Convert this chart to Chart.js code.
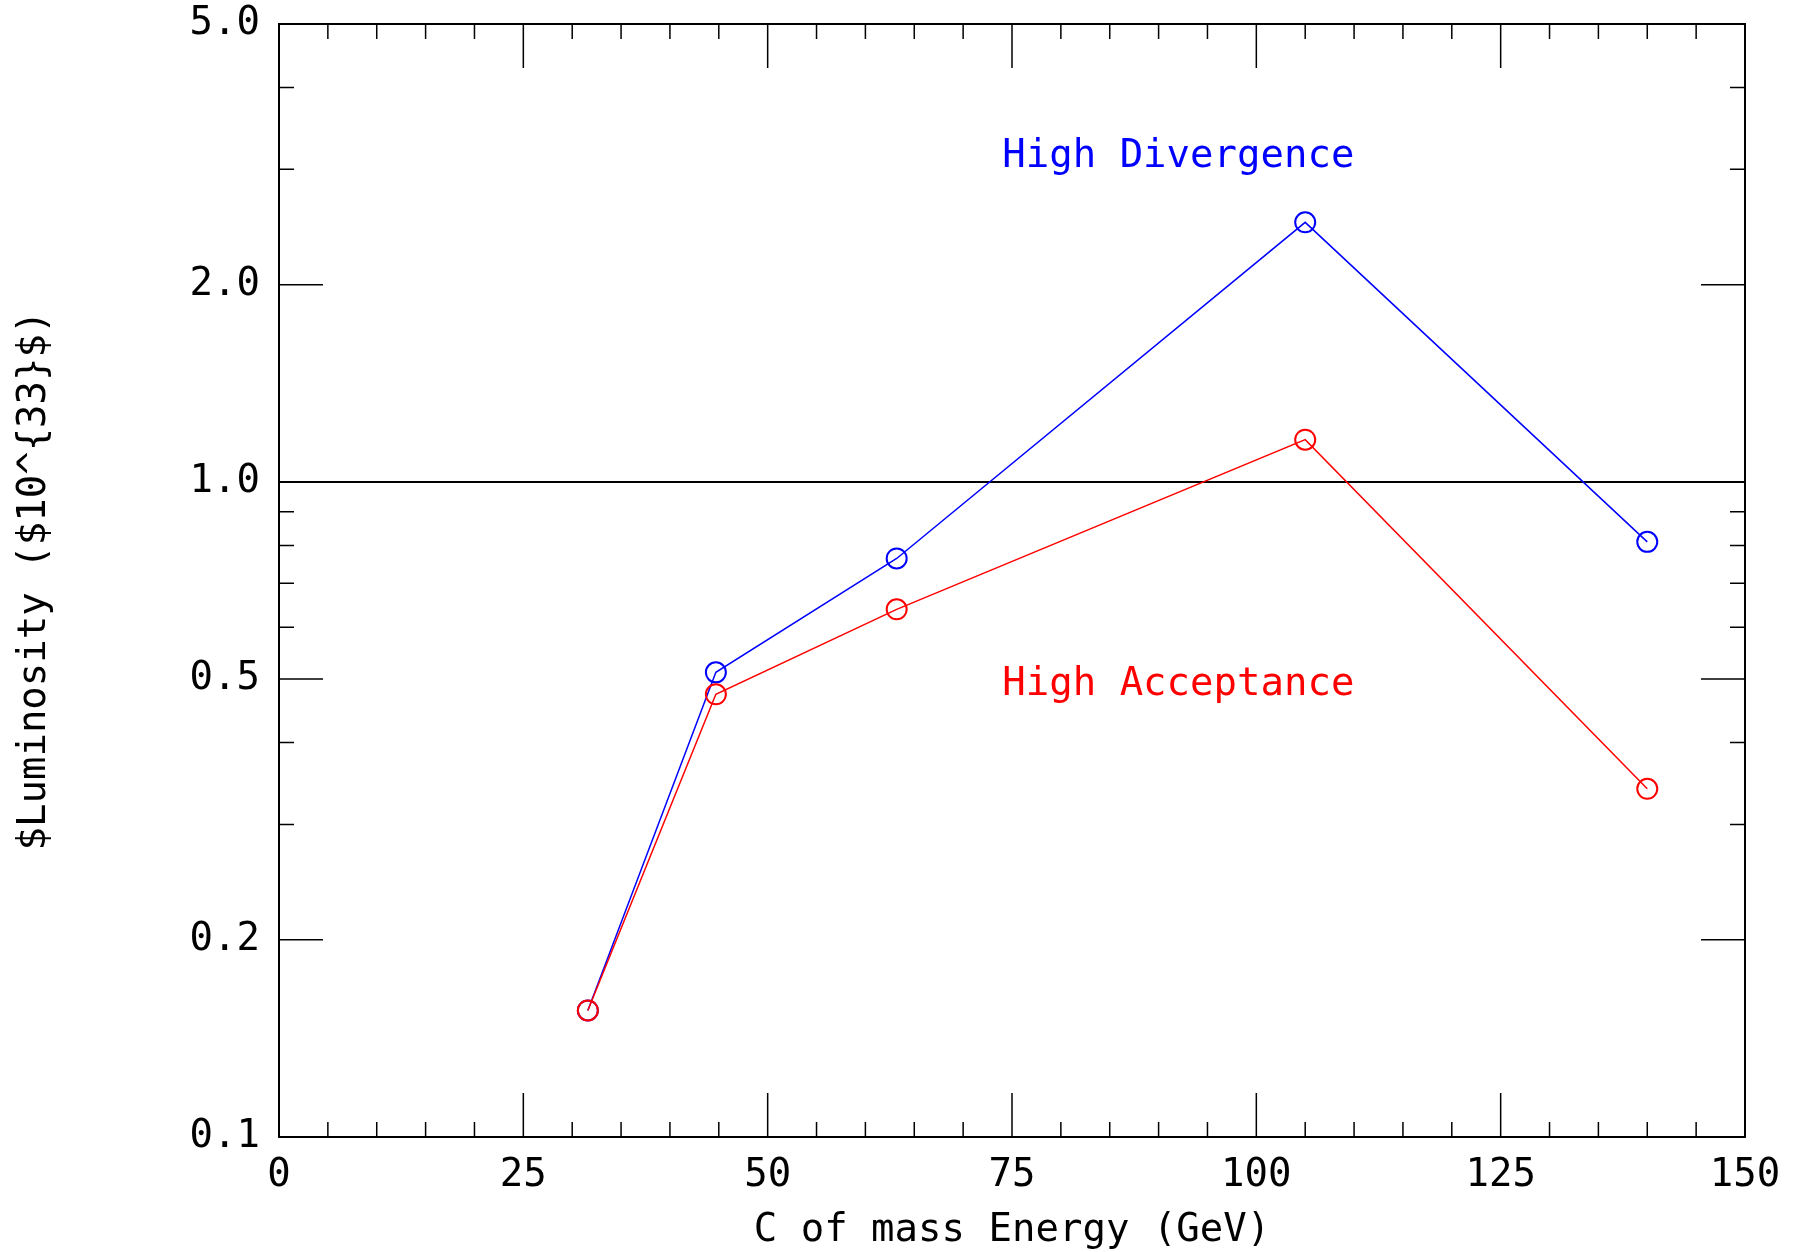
<!DOCTYPE html>
<html>
<head>
<meta charset="utf-8">
<script src="https://cdn.jsdelivr.net/npm/chart.js@4/dist/chart.umd.min.js"></script>
<style>
  html, body { margin: 0; padding: 0; background: #fff; }
  #wrap { width: 1798px; height: 1252px; position: relative; }
</style>
</head>
<body>
<div id="wrap"><canvas id="c"></canvas></div>
<script>
// ---- data ----
const energies = [31.6, 44.7, 63.2, 105, 140];
const highDivergence = [0.156, 0.512, 0.764, 2.49, 0.81];
const highAcceptance = [0.156, 0.474, 0.639, 1.16, 0.34];

const xMajorTicks = [0, 25, 50, 75, 100, 125, 150];
const xMinorTicks = [5, 10, 15, 20, 30, 35, 40, 45, 55, 60, 65, 70, 80, 85, 90, 95, 105, 110, 115, 120, 130, 135, 140, 145];
const yMajorTicks = [0.1, 0.2, 0.5, 1.0, 2.0, 5.0];
const yMinorTicks = [0.3, 0.4, 0.6, 0.7, 0.8, 0.9, 3.0, 4.0];

const labelTexts = ['High Divergence', 'High Acceptance'];
const labelX = [74, 74];
const labelY = [3.13, 0.49];
const labelColors = ['#0000ff', '#ff0000'];

const FONT = "'DejaVu Sans Mono', 'Liberation Mono', monospace";
const FS = 39;

const frameTicks = {
  id: 'frameTicks',
  beforeDatasetsDraw(chart) {
    const {ctx, chartArea: a, scales: {x, y}} = chart;
    ctx.save();
    ctx.strokeStyle = '#000';
    ctx.lineWidth = 1.5;
    const MAJ = 44, MIN = 15;
    ctx.beginPath();
    xMajorTicks.forEach(v => {
      const px = x.getPixelForValue(v);
      ctx.moveTo(px, a.bottom); ctx.lineTo(px, a.bottom - MAJ);
      ctx.moveTo(px, a.top); ctx.lineTo(px, a.top + MAJ);
    });
    xMinorTicks.forEach(v => {
      const px = x.getPixelForValue(v);
      ctx.moveTo(px, a.bottom); ctx.lineTo(px, a.bottom - MIN);
      ctx.moveTo(px, a.top); ctx.lineTo(px, a.top + MIN);
    });
    yMajorTicks.forEach(v => {
      const py = y.getPixelForValue(v);
      ctx.moveTo(a.left, py); ctx.lineTo(a.left + MAJ, py);
      ctx.moveTo(a.right, py); ctx.lineTo(a.right - MAJ, py);
    });
    yMinorTicks.forEach(v => {
      const py = y.getPixelForValue(v);
      ctx.moveTo(a.left, py); ctx.lineTo(a.left + MIN, py);
      ctx.moveTo(a.right, py); ctx.lineTo(a.right - MIN, py);
    });
    ctx.stroke();
    // 1.0 reference line
    ctx.lineWidth = 2;
    ctx.beginPath();
    const p1 = y.getPixelForValue(1.0);
    ctx.moveTo(a.left, p1); ctx.lineTo(a.right, p1);
    ctx.stroke();
    // frame
    ctx.lineWidth = 2;
    ctx.strokeRect(a.left, a.top, a.right - a.left, a.bottom - a.top);
    ctx.restore();
  },
  afterDatasetsDraw(chart) {
    const {ctx, scales: {x, y}} = chart;
    ctx.save();
    ctx.font = FS + 'px ' + FONT;
    ctx.textAlign = 'left';
    ctx.textBaseline = 'middle';
    labelTexts.forEach((t, i) => {
      ctx.fillStyle = labelColors[i];
      ctx.fillText(t, x.getPixelForValue(labelX[i]), y.getPixelForValue(labelY[i]));
    });
    ctx.restore();
  }
};

new Chart(document.getElementById('c'), {
  type: 'line',
  data: {
    datasets: [
      {
        label: 'High Acceptance',
        data: energies.map((e, i) => ({x: e, y: highAcceptance[i]})),
        borderColor: '#ff0000',
        backgroundColor: 'rgba(0,0,0,0)',
        borderWidth: 1.5,
        pointStyle: 'circle',
        pointRadius: 10,
        pointBorderWidth: 2,
        pointBorderColor: '#ff0000',
        pointBackgroundColor: 'rgba(0,0,0,0)',
        tension: 0
      },
      {
        label: 'High Divergence',
        data: energies.map((e, i) => ({x: e, y: highDivergence[i]})),
        borderColor: '#0000ff',
        backgroundColor: 'rgba(0,0,0,0)',
        borderWidth: 1.5,
        pointStyle: 'circle',
        pointRadius: 10,
        pointBorderWidth: 2,
        pointBorderColor: '#0000ff',
        pointBackgroundColor: 'rgba(0,0,0,0)',
        tension: 0
      }
    ]
  },
  options: {
    responsive: true,
    maintainAspectRatio: false,
    animation: false,
    layout: { padding: { top: 24, right: 53, left: 0, bottom: 0 } },
    plugins: { legend: { display: false }, tooltip: { enabled: false } },
    scales: {
      x: {
        type: 'linear',
        min: 0, max: 150,
        afterBuildTicks: s => { s.ticks = xMajorTicks.map(v => ({value: v})); },
        afterFit: s => { s.height = 115; s.paddingLeft = 0; s.paddingRight = 0; },
        grid: { display: false, drawTicks: false },
        border: { display: false },
        ticks: {
          autoSkip: false, maxRotation: 0, padding: 15,
          color: '#000', font: { family: FONT, size: FS },
          callback: v => String(v)
        },
        title: {
          display: true, text: 'C of mass Energy (GeV)', color: '#000',
          font: { family: FONT, size: FS }, padding: { top: 0, bottom: -2 }
        }
      },
      y: {
        type: 'logarithmic',
        min: 0.1, max: 5,
        afterBuildTicks: s => { s.ticks = yMajorTicks.map(v => ({value: v})); },
        afterFit: s => { s.width = 279; s.paddingTop = 0; s.paddingBottom = 0; },
        grid: { display: false, drawTicks: false },
        border: { display: false },
        ticks: {
          autoSkip: false, padding: 19,
          color: '#000', font: { family: FONT, size: FS },
          callback: v => Number(v).toFixed(1)
        },
        title: {
          display: true, text: '$Luminosity ($10^{33}$)', color: '#000',
          font: { family: FONT, size: FS }, padding: { top: 11, bottom: 0 }
        }
      }
    }
  },
  plugins: [frameTicks]
});
</script>
</body>
</html>
